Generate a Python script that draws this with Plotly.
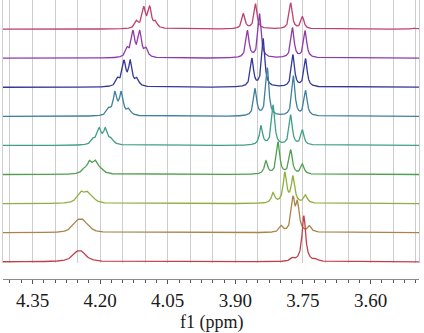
import numpy as np
import plotly.graph_objects as go

# ---- data (top trace first) ----
trace_colors = ["#bf3f6f", "#8e3aaa", "#33389a", "#3f7f9f", "#3f9f87",
                "#4f9f4f", "#8fae3f", "#a8844a", "#c0404a"]

# peak positions (ppm), heights (pixels above baseline), half widths (ppm)
peaks_ppm = [
    [4.119, 4.103, 4.090, 4.077, 3.882, 3.855, 3.777, 3.751, 3.503],
    [4.140, 4.127, 4.112, 4.098, 3.873, 3.846, 3.773, 3.745],
    [4.161, 4.147, 4.133, 4.118, 3.863, 3.838, 3.772, 3.744],
    [4.181, 4.167, 4.153, 4.136, 3.856, 3.829, 3.771, 3.744],
    [4.215, 4.202, 4.188, 4.175, 3.843, 3.816, 3.777, 3.751],
    [4.235, 4.223, 4.210, 4.198, 3.832, 3.805, 3.777, 3.751],
    [4.250, 4.241, 4.228, 4.215, 3.816, 3.790, 3.772, 3.744],
    [4.261, 4.249, 4.237, 4.225, 3.798, 3.772, 3.762, 3.735],
    [4.252, 4.240, 3.773, 3.748, 3.721],
]
peaks_height = [
    [7, 20, 20, 6, 15, 25, 26, 12, 1],
    [8, 25, 25, 8, 27, 44, 30, 27],
    [7, 24, 24, 7, 28, 48, 32, 28],
    [6, 22, 22, 6, 27, 48, 40, 25],
    [5, 15, 15, 5, 19, 40, 30, 15],
    [4, 11, 11, 4, 13, 32, 24, 10],
    [3, 9, 9, 3, 10, 30, 26, 8],
    [3, 9, 9, 3, 6, 32, 27, 6],
    [7, 7, 3, 46, 2],
]
peaks_hw = [
    [0.0045, 0.0045, 0.0045, 0.0045, 0.004, 0.004, 0.004, 0.004, 0.004],
    [0.0045, 0.0045, 0.0045, 0.0045, 0.004, 0.004, 0.004, 0.004],
    [0.0047, 0.0047, 0.0047, 0.0047, 0.004, 0.004, 0.004, 0.004],
    [0.005, 0.005, 0.005, 0.005, 0.004, 0.004, 0.004, 0.004],
    [0.0055, 0.0055, 0.0055, 0.0055, 0.004, 0.004, 0.004, 0.004],
    [0.0065, 0.0065, 0.0065, 0.0065, 0.0042, 0.0042, 0.0042, 0.0042],
    [0.0075, 0.0075, 0.0075, 0.0075, 0.0045, 0.0045, 0.0045, 0.0045],
    [0.0085, 0.0085, 0.0085, 0.0085, 0.0045, 0.0045, 0.0045, 0.0045],
    [0.012, 0.012, 0.005, 0.0048, 0.005],
]

tick_vals = [4.35, 4.20, 4.05, 3.90, 3.75, 3.60]
tick_text = ["4.35", "4.20", "4.05", "3.90", "3.75", "3.60"]
x_title = "f1 (ppm)"

PX_PER_UNIT = 29.1  # vertical stacking unit in pixels
ppm = np.linspace(3.48, 4.43, 4000)

fig = go.Figure()
n = len(peaks_ppm)
for i in range(n):
    offset = n - 1 - i
    y = np.zeros_like(ppm)
    for c, h, w in zip(peaks_ppm[i], peaks_height[i], peaks_hw[i]):
        y += (h / PX_PER_UNIT) * w**2 / ((ppm - c) ** 2 + w**2)
    fig.add_trace(go.Scatter(
        x=ppm, y=y + offset, mode="lines",
        line=dict(color=trace_colors[i], width=1.3),
        hoverinfo="skip", showlegend=False,
    ))

fig.add_trace(go.Scatter(x=[4.0], y=[0], xaxis="x2", yaxis="y",
                         mode="markers", marker=dict(opacity=0),
                         hoverinfo="skip", showlegend=False))

xr = [4.4155, 3.4925]
tick_font = dict(family="Liberation Serif", size=19, color="#1a1a1a")
title_font = dict(family="Liberation Serif", size=18, color="#1a1a1a")

fig.update_layout(
    width=424, height=333,
    font=tick_font,
    margin=dict(l=3, r=5, t=0, b=54, autoexpand=False),
    paper_bgcolor="white", plot_bgcolor="white",
    xaxis=dict(range=xr, showgrid=True, gridcolor="#cdcdcd", gridwidth=1,
               dtick=0.05, tick0=3.60, showticklabels=False, ticks="",
               showline=False, zeroline=False, automargin=False),
    xaxis2=dict(range=xr, overlaying="x", anchor="free", position=0,
                side="bottom", showgrid=False, zeroline=False,
                tickmode="array", tickvals=tick_vals, ticktext=tick_text,
                ticks="outside", ticklen=4, tickcolor="#555555", tickwidth=1,
                minor=dict(dtick=0.025, tick0=3.60, ticks="outside", ticklen=3,
                           tickcolor="#555555", showgrid=False),
                showline=True, linecolor="#8a8a8a", linewidth=1,
                tickfont=tick_font, ticklabelstandoff=0, automargin=False),
    yaxis=dict(range=[-0.04, 9.0], domain=[16 / 279, 1], showgrid=False,
               zeroline=False, showticklabels=False, ticks="",
               showline=True, mirror=True, linecolor="#cdcdcd",
               automargin=False),
    annotations=[dict(text=x_title, xref="paper", yref="paper", x=0.5, y=0,
                      xanchor="center", yanchor="middle", yshift=-43,
                      showarrow=False, font=title_font)],
)

fig.write_html("out.html", config={"displayModeBar": False},
               post_script="document.body.style.margin='0';document.body.style.overflow='hidden';")
